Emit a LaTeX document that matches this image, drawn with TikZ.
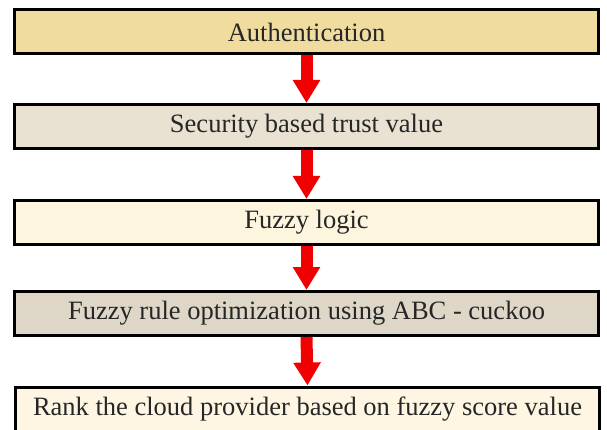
\documentclass[tikz,border=0pt]{standalone}
\usepackage{fontspec}
\setmainfont{Liberation Serif}
\usetikzlibrary{arrows.meta}
\definecolor{tanA}{HTML}{F1DCA0}
\definecolor{grayB}{HTML}{E9E2D2}
\definecolor{creamC}{HTML}{FEF5DF}
\definecolor{grayD}{HTML}{DED7C8}
\definecolor{creamE}{HTML}{FEF6E3}
\definecolor{arrred}{HTML}{F00000}
\tikzset{
  stepbox/.style={draw=black, line width=3pt, rectangle, minimum width=584pt, minimum height=44pt, inner sep=0pt, font=\fontsize{26.5}{30}\selectfont, text=black!85},
  flowarrow/.style={draw=arrred, line width=12pt, -{Triangle[width=26pt,length=23pt]}, arrred}
}
\begin{document}
\begin{tikzpicture}[x=1pt,y=-1pt]
\useasboundingbox (0,0) rectangle (607,430);
\clip (0,0) rectangle (607,430);
\fill[white] (0,0) rectangle (607,430);
\node[stepbox, fill=tanA] (a) at (306.5,32) {Authentication};
\node[stepbox, fill=grayB] (b) at (306.5,126.5) {Security based trust value};
\node[stepbox, fill=creamC] (c) at (306.5,222.5) {Fuzzy logic};
\node[stepbox, fill=grayD] (d) at (306.5,313.5) {Fuzzy rule optimization using ABC - cuckoo};
\node[stepbox, fill=creamE] (e) at (307.5,409) {Rank the cloud provider based on fuzzy score value};
\draw[flowarrow] (a.south) -- (b.north);
\draw[flowarrow] (b.south) -- (c.north);
\draw[flowarrow] (c.south) -- (d.north);
\draw[flowarrow] (d.south) -- (e.north);
\end{tikzpicture}
\end{document}
